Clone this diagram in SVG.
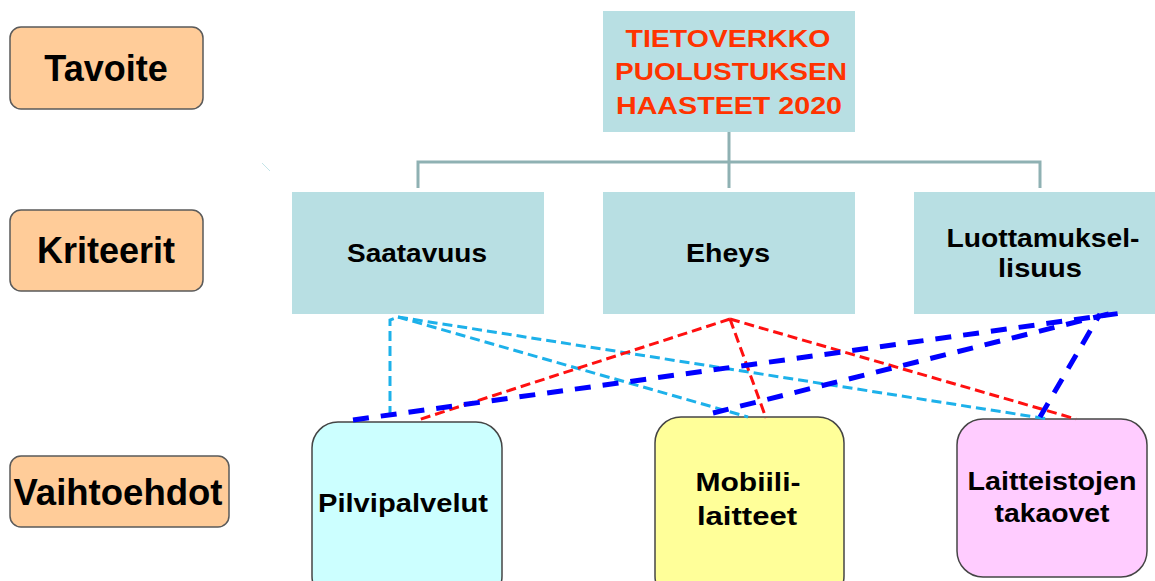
<svg xmlns="http://www.w3.org/2000/svg" width="1155" height="581" viewBox="0 0 1155 581">
  <style>
    text { font-family: "Liberation Sans", Arial, sans-serif; font-weight: bold; text-anchor: middle; }
    .label { fill: #FFCC99; stroke: #5A5A5A; stroke-width: 1.5; }
    .label-text { font-size: 36px; fill: #000; }
    .crit { fill: #B8DFE3; }
    .crit-text { font-size: 25px; fill: #000; }
    .goal-text { font-size: 24.5px; fill: #FF3300; }
    .alt { stroke: #454545; stroke-width: 1.5; }
    .alt-text { font-size: 25px; fill: #000; }
    .tree { fill: none; stroke: #8FB1B3; stroke-width: 3; }
    .cyan { fill: none; stroke: #1DB1EA; stroke-width: 3; stroke-dasharray: 10 5; }
    .red { fill: none; stroke: #FF1010; stroke-width: 3; stroke-dasharray: 10 5; }
    .blue { fill: none; stroke: #0000FF; stroke-width: 5; stroke-dasharray: 16 12; }
  </style>

  <rect width="1155" height="581" fill="#FFFFFF"/>

  <!-- level labels -->
  <g id="label-tavoite">
    <rect class="label" x="10" y="27" width="193" height="82" rx="11"/>
    <text class="label-text" x="106" y="81">Tavoite</text>
  </g>
  <g id="label-kriteerit">
    <rect class="label" x="10" y="210" width="193" height="81" rx="11"/>
    <text class="label-text" x="106" y="263">Kriteerit</text>
  </g>
  <g id="label-vaihtoehdot">
    <rect class="label" x="10" y="456" width="219" height="71" rx="11"/>
    <text class="label-text" x="118" y="505" textLength="209" lengthAdjust="spacingAndGlyphs">Vaihtoehdot</text>
  </g>

  <!-- goal -->
  <g id="goal">
    <rect class="crit" x="603" y="11" width="252" height="121"/>
    <text class="goal-text" x="728" y="47" textLength="205" lengthAdjust="spacingAndGlyphs">TIETOVERKKO</text>
    <text class="goal-text" x="731" y="80" textLength="232" lengthAdjust="spacingAndGlyphs">PUOLUSTUKSEN</text>
    <text class="goal-text" x="729" y="114" textLength="226" lengthAdjust="spacingAndGlyphs">HAASTEET 2020</text>
  </g>

  <!-- criteria -->
  <g id="crit-saatavuus">
    <rect class="crit" x="292" y="192" width="252" height="122"/>
    <text class="crit-text" x="417" y="262" textLength="140" lengthAdjust="spacingAndGlyphs">Saatavuus</text>
  </g>
  <g id="crit-eheys">
    <rect class="crit" x="603" y="192" width="252" height="122"/>
    <text class="crit-text" x="728" y="262" textLength="84" lengthAdjust="spacingAndGlyphs">Eheys</text>
  </g>
  <g id="crit-luottamuksellisuus">
    <rect class="crit" x="914" y="192" width="241" height="122"/>
    <text class="crit-text" x="1043" y="247" textLength="193" lengthAdjust="spacingAndGlyphs">Luottamuksel-</text>
    <text class="crit-text" x="1040" y="277" textLength="84" lengthAdjust="spacingAndGlyphs">lisuus</text>
  </g>

  <!-- alternatives -->
  <g id="alt-pilvipalvelut">
    <rect class="alt" x="312" y="422" width="190" height="180" rx="26" fill="#CCFFFF"/>
    <text class="alt-text" x="403" y="512" textLength="170" lengthAdjust="spacingAndGlyphs">Pilvipalvelut</text>
  </g>
  <g id="alt-mobiililaitteet">
    <rect class="alt" x="655" y="417" width="189" height="185" rx="26" fill="#FFFF99"/>
    <text class="alt-text" x="748" y="491" textLength="105" lengthAdjust="spacingAndGlyphs">Mobiili-</text>
    <text class="alt-text" x="747" y="525" textLength="100" lengthAdjust="spacingAndGlyphs">laitteet</text>
  </g>
  <g id="alt-takaovet">
    <rect class="alt" x="957" y="419" width="190" height="158" rx="26" fill="#FFCCFF"/>
    <text class="alt-text" x="1052" y="490" textLength="169" lengthAdjust="spacingAndGlyphs">Laitteistojen</text>
    <text class="alt-text" x="1052" y="522" textLength="115" lengthAdjust="spacingAndGlyphs">takaovet</text>
  </g>

  <!-- connectors -->
  <g id="connectors">
    <path class="tree" d="M729,132 V162 M418,188 V162 H1040 V188 M729,162 V188"/>
    <line x1="262" y1="163" x2="270" y2="171" stroke="#C4E4E8" stroke-width="1"/>

    <path class="cyan" d="M390,416 V320 L398,317"/>
    <line class="cyan" x1="398" y1="317" x2="748" y2="417"/>
    <line class="cyan" x1="398" y1="317" x2="1048" y2="419"/>

    <line class="red" x1="730" y1="319" x2="418" y2="420"/>
    <line class="red" x1="730" y1="319" x2="766" y2="418"/>
    <line class="red" x1="730" y1="319" x2="1076" y2="419"/>

    <line class="blue" x1="353" y1="420" x2="1122" y2="313"/>
    <line class="blue" x1="713" y1="413" x2="1112" y2="313"/>
    <line class="blue" x1="1040" y1="417" x2="1100" y2="314"/>
  </g>
</svg>
